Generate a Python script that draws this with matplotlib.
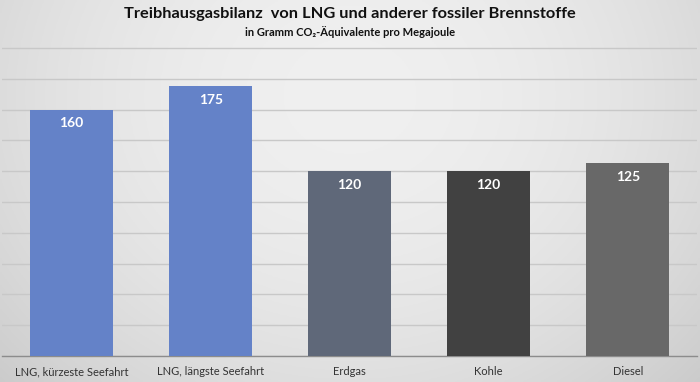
import numpy as np
import matplotlib.pyplot as plt

# Daten
kategorien = ["LNG, kürzeste Seefahrt", "LNG, längste Seefahrt", "Erdgas", "Kohle", "Diesel"]
werte = [160, 175, 120, 120, 125]
farben = ["#6482c8", "#6482c8", "#5f6879", "#414141", "#686868"]

titel = "Treibhausgasbilanz  von LNG und anderer fossiler Brennstoffe"
untertitel = "in Gramm CO₂-Äquivalente pro Megajoule"

plt.rcParams['font.family'] = ['Lato', 'DejaVu Sans']

fig = plt.figure(figsize=(7, 3.82), dpi=100)

# Hintergrund: heller Verlauf, Mitte oben am hellsten
bg = fig.add_axes([0, 0, 1, 1], zorder=0)
yy, xx = np.mgrid[0:1:200j, 0:1:300j]
r = np.sqrt(((xx - 0.5) / 0.75) ** 2 + ((yy - 0.25) / 1.2) ** 2)
hell = np.clip(0.94 - 0.17 * r ** 2, 0, 1)
bg.imshow(np.dstack([hell, hell, hell]), aspect="auto", extent=[0, 1, 0, 1])
bg.axis("off")

ax = fig.add_axes([0.003, 0.068, 0.993, 0.847], zorder=1)
ax.patch.set_alpha(0)

x = np.arange(len(kategorien))
ax.bar(x, werte, width=0.6, color=farben, zorder=3)

for xi, w in zip(x, werte):
    ax.text(xi, w - 5, str(w), ha="center", va="top", color="white",
            fontsize=10, fontweight="bold", zorder=4)

ax.set_xlim(-0.5, 4.5)
ax.set_ylim(0, 210)
ax.set_yticks(np.arange(0, 201, 20))
ax.yaxis.grid(True, color="#c8c8c8", linewidth=1)
ax.set_axisbelow(True)
ax.tick_params(axis="y", left=False, labelleft=False)
ax.tick_params(axis="x", bottom=False, pad=4)
ax.set_xticks(x)
ax.set_xticklabels(kategorien, fontsize=8, color="#333333")
for s in ["top", "right", "left"]:
    ax.spines[s].set_visible(False)
ax.spines["bottom"].set_color("#8c8c8c")
ax.spines["bottom"].set_linewidth(1)

fig.text(0.5, 0.963, titel, ha="center", va="center", fontsize=11.8,
         fontweight="bold", color="#111111")
fig.text(0.5, 0.915, untertitel, ha="center", va="center", fontsize=8,
         fontweight="bold", color="#111111")

fig.savefig("out.png", dpi=100)
